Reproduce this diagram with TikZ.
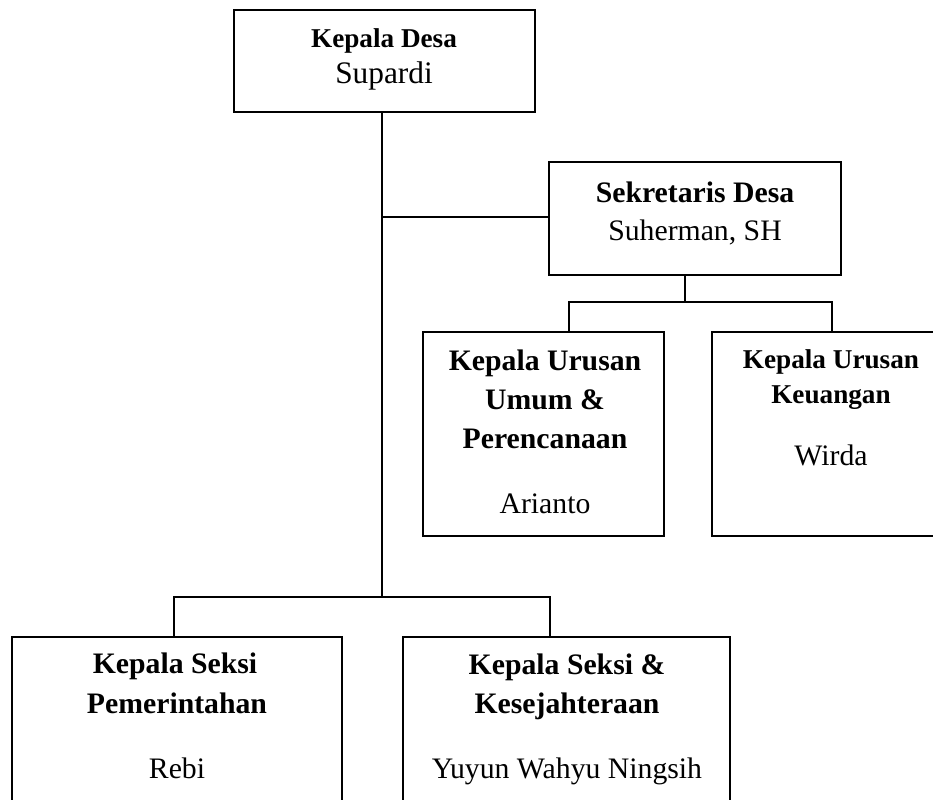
\documentclass[tikz,border=0pt]{standalone}
\usepackage{fontspec}
\setmainfont{Liberation Serif}
\tikzset{
  box/.style={draw=black, line width=1.9pt, rectangle, anchor=north west, inner sep=0pt, outer sep=0pt},
  conn/.style={draw=black, line width=1.4pt},
  hd/.style={anchor=base, inner sep=0pt, font=\bfseries\fontsize{22.3pt}{26pt}\selectfont},
  hds/.style={anchor=base, inner sep=0pt, font=\bfseries\fontsize{20.4pt}{24pt}\selectfont},
  nm/.style={anchor=base, inner sep=0pt, font=\fontsize{22.3pt}{26pt}\selectfont},
  nmb/.style={anchor=base, inner sep=0pt, font=\fontsize{23.5pt}{27pt}\selectfont}
}
\begin{document}
\begin{tikzpicture}[x=0.75pt,y=-0.75pt]
\useasboundingbox (0,0) rectangle (933,800);
\fill[white] (0,0) rectangle (933,800);
\clip (0,0) rectangle (933,800);

% boxes
\node[box, minimum width=225.75pt, minimum height=76.5pt] (kd) at (234,10) {};
\node[box, minimum width=219pt, minimum height=84.75pt] (sd) at (549,162) {};
\node[box, minimum width=180.75pt, minimum height=153pt] (kuu) at (423,332) {};
\node[box, minimum width=178.5pt, minimum height=153pt] (kuk) at (712,332) {};
\node[box, minimum width=247.5pt, minimum height=150pt] (ksp) at (12,637) {};
\node[box, minimum width=245.25pt, minimum height=150pt] (ksk) at (403,637) {};

% junction points
\coordinate (j1) at (382,217);
\coordinate (j2) at (382,597);
\coordinate (s1) at (685,302);
\coordinate (u1) at (569,302);
\coordinate (u2) at (832,302);
\coordinate (b1) at (174,597);
\coordinate (b2) at (550,597);

% connectors
\draw[conn] (kd.south -| j1) -- (j2);
\draw[conn] (j1) -- (j1 -| sd.west);
\draw[conn] (sd.south -| s1) -- (s1);
\draw[conn] (u1 |- kuu.north) -- (u1) -- (u2) -- (u2 |- kuk.north);
\draw[conn] (b1 |- ksp.north) -- (b1) -- (b2) -- (b2 |- ksk.north);

% texts
\node[hds] (kd1) at (384,47) {Kepala Desa};
\node[nmb] (kd2) at (384,83) {Supardi};

\node[hd] (sd1) at (695,202) {Sekretaris Desa};
\node[nm] (sd2) at (695,240) {Suherman, SH};

\node[hd] (kuu1) at (545,370) {Kepala Urusan};
\node[hd] (kuu2) at (545,409) {Umum \&};
\node[hd] (kuu3) at (545,448) {Perencanaan};
\node[nm] (kuu4) at (545,513) {Arianto};

\node[hds] (kuk1) at (831,368) {Kepala Urusan};
\node[hds] (kuk2) at (831,403) {Keuangan};
\node[nm] (kuk3) at (831,465) {Wirda};

\node[hd] (ksp1) at (175,673) {Kepala Seksi};
\node[hd] (ksp2) at (177,713) {Pemerintahan};
\node[nm] (ksp3) at (177,778) {Rebi};

\node[hd] (ksk1) at (567,674) {Kepala Seksi \&};
\node[hd] (ksk2) at (567,713) {Kesejahteraan};
\node[nm] (ksk3) at (567,778) {Yuyun Wahyu Ningsih};
\end{tikzpicture}
\end{document}
